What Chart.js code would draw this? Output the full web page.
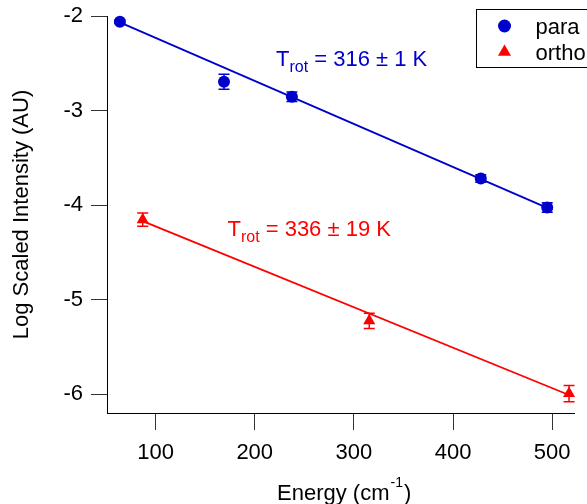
<!DOCTYPE html>
<html>
<head>
<meta charset="utf-8">
<script src="https://cdn.jsdelivr.net/npm/chart.js@4/dist/chart.umd.min.js"></script>
<style>
    html, body { margin: 0; padding: 0; background: #fff; }
    #wrap { width: 587px; height: 504px; }
</style>
</head>
<body>
<div id="wrap"><canvas id="rotChart" width="587" height="504"></canvas></div>
<script>
// values
const paraEnergy = [64, 169, 237.5, 428, 495];
const paraLogI = [-2.06, -2.695, -2.855, -3.72, -4.025];
const paraErr = [0.02, 0.08, 0.05, 0.04, 0.05];

const orthoEnergy = [87, 315.5, 517];
const orthoLogI = [-4.155, -5.225, -5.995];
const orthoErr = [0.07, 0.08, 0.085];

// straight-line fits (end points)
const paraFitEnergy = [64, 495];
const paraFitLogI = [-2.067, -4.03];
const orthoFitEnergy = [87, 517];
const orthoFitLogI = [-4.17, -6.01];

const xTicks = [100, 200, 300, 400, 500];
const yTicks = [-2, -3, -4, -5, -6];

const seriesNames = ['para', 'ortho'];
const fitLabels = ['316 \u00b1 1 K', '336 \u00b1 19 K'];

const BLUE = '#0000cc';
const RED = '#ff0000';
const FONT = '"Liberation Sans", Arial, sans-serif';

document.addEventListener('DOMContentLoaded', function () {
    const toPoints = (xs, ys) => xs.map((x, i) => ({ x: x, y: ys[i] }));

    // vertical error bars with caps
    const errorBars = {
        id: 'errorBars',
        afterDatasetsDraw(chart) {
            const ctx = chart.ctx;
            const xs = chart.scales.x, ys = chart.scales.y;
            chart.data.datasets.forEach((ds) => {
                if (!ds.errors) return;
                ctx.save();
                ctx.strokeStyle = ds.borderColor;
                ctx.lineWidth = 1.5;
                ds.data.forEach((p, i) => {
                    const px = xs.getPixelForValue(p.x);
                    const top = ys.getPixelForValue(p.y + ds.errors[i]);
                    const bot = ys.getPixelForValue(p.y - ds.errors[i]);
                    ctx.beginPath();
                    ctx.moveTo(px, top); ctx.lineTo(px, bot);
                    ctx.moveTo(px - 5.5, top); ctx.lineTo(px + 5.5, top);
                    ctx.moveTo(px - 5.5, bot); ctx.lineTo(px + 5.5, bot);
                    ctx.stroke();
                });
                ctx.restore();
            });
        }
    };

    // legend box in the top right corner, T_rot labels and x title with superscript
    const extras = {
        id: 'extras',
        afterDraw(chart) {
            const ctx = chart.ctx;
            const xs = chart.scales.x, ys = chart.scales.y;
            ctx.save();

            // legend
            ctx.strokeStyle = '#000';
            ctx.lineWidth = 1;
            ctx.strokeRect(476.5, 9.5, 130, 58);
            ctx.font = '22px ' + FONT;
            ctx.textBaseline = 'alphabetic';
            [0, 1].forEach((k) => {
                const ds = chart.data.datasets[k];
                const cy = 26 + k * 26;
                ctx.fillStyle = ds.backgroundColor;
                Chart.helpers.drawPoint(ctx, {
                    pointStyle: ds.pointStyle, radius: ds.pointRadius + 0.5,
                    rotation: 0, borderWidth: 0
                }, 504.5, cy);
                ctx.fillStyle = '#000';
                ctx.fillText(ds.label, 535.5, cy + 7.5);
            });

            // T_rot annotations, anchored in data coordinates
            const notes = [
                { x: 221.5, y: -2.53, color: BLUE, text: fitLabels[0] },
                { x: 172.5, y: -4.33, color: RED, text: fitLabels[1] }
            ];
            notes.forEach((n) => {
                let px = xs.getPixelForValue(n.x);
                const py = ys.getPixelForValue(n.y);
                ctx.fillStyle = n.color;
                ctx.font = '22px ' + FONT;
                ctx.fillText('T', px, py);
                px += ctx.measureText('T').width;
                ctx.font = '16px ' + FONT;
                ctx.fillText('rot', px, py + 5.5);
                px += ctx.measureText('rot').width;
                ctx.font = '22px ' + FONT;
                ctx.fillText(' = ' + n.text, px, py);
            });

            // x axis title: Energy (cm^-1)
            ctx.fillStyle = '#000';
            ctx.font = '22px ' + FONT;
            let tx = 277;
            ctx.fillText('Energy (cm', tx, 500);
            tx += ctx.measureText('Energy (cm').width + 1;
            ctx.font = '14px ' + FONT;
            ctx.fillText('-1', tx, 487);
            tx += ctx.measureText('-1').width + 1;
            ctx.font = '22px ' + FONT;
            ctx.fillText(')', tx, 500);

            ctx.restore();
        }
    };

    const rotChart = new Chart(document.getElementById('rotChart'), {
        type: 'scatter',
        data: {
            datasets: [{
                label: seriesNames[0],
                data: toPoints(paraEnergy, paraLogI),
                errors: paraErr,
                pointStyle: 'circle',
                pointRadius: 6,
                backgroundColor: BLUE,
                borderColor: BLUE,
                borderWidth: 0,
                clip: false
            }, {
                label: seriesNames[1],
                data: toPoints(orthoEnergy, orthoLogI),
                errors: orthoErr,
                pointStyle: 'triangle',
                pointRadius: 7,
                backgroundColor: RED,
                borderColor: RED,
                borderWidth: 0,
                clip: false
            }, {
                label: 'para fit',
                type: 'line',
                data: toPoints(paraFitEnergy, paraFitLogI),
                borderColor: BLUE,
                borderWidth: 1.8,
                pointRadius: 0,
                fill: false
            }, {
                label: 'ortho fit',
                type: 'line',
                data: toPoints(orthoFitEnergy, orthoFitLogI),
                borderColor: RED,
                borderWidth: 1.8,
                pointRadius: 0,
                fill: false
            }]
        },
        options: {
            responsive: false,
            animation: false,
            devicePixelRatio: 1,
            layout: { padding: { left: 0, top: 16, right: 13, bottom: 0 } },
            plugins: {
                legend: { display: false },
                tooltip: { enabled: false }
            },
            scales: {
                x: {
                    type: 'linear',
                    min: 51,
                    max: 522,
                    afterBuildTicks: (s) => { s.ticks = xTicks.map((v) => ({ value: v })); },
                    afterFit: (s) => { s.height = 91; s.paddingLeft = 0; s.paddingRight = 0; },
                    border: { display: true, color: '#000', width: 1 },
                    grid: { drawOnChartArea: false, drawTicks: true, tickLength: 17, color: '#333', lineWidth: 1 },
                    ticks: { color: '#000', padding: 10, maxRotation: 0, font: { family: FONT, size: 22 } },
                    title: { display: false }
                },
                y: {
                    type: 'linear',
                    min: -6.2,
                    max: -2,
                    afterBuildTicks: (s) => { s.ticks = yTicks.map((v) => ({ value: v })); },
                    afterFit: (s) => { s.width = 107; s.paddingTop = 0; s.paddingBottom = 0; },
                    border: { display: true, color: '#000', width: 1 },
                    grid: { drawOnChartArea: false, drawTicks: true, tickLength: 16, color: '#333', lineWidth: 1 },
                    ticks: { color: '#000', padding: 8, font: { family: FONT, size: 22 } },
                    title: {
                        display: true,
                        text: 'Log Scaled Intensity (AU)',
                        color: '#000',
                        padding: { top: 9, bottom: 0 },
                        font: { family: FONT, size: 22 }
                    }
                }
            }
        },
        plugins: [errorBars, extras]
    });
});
</script>
</body>
</html>
